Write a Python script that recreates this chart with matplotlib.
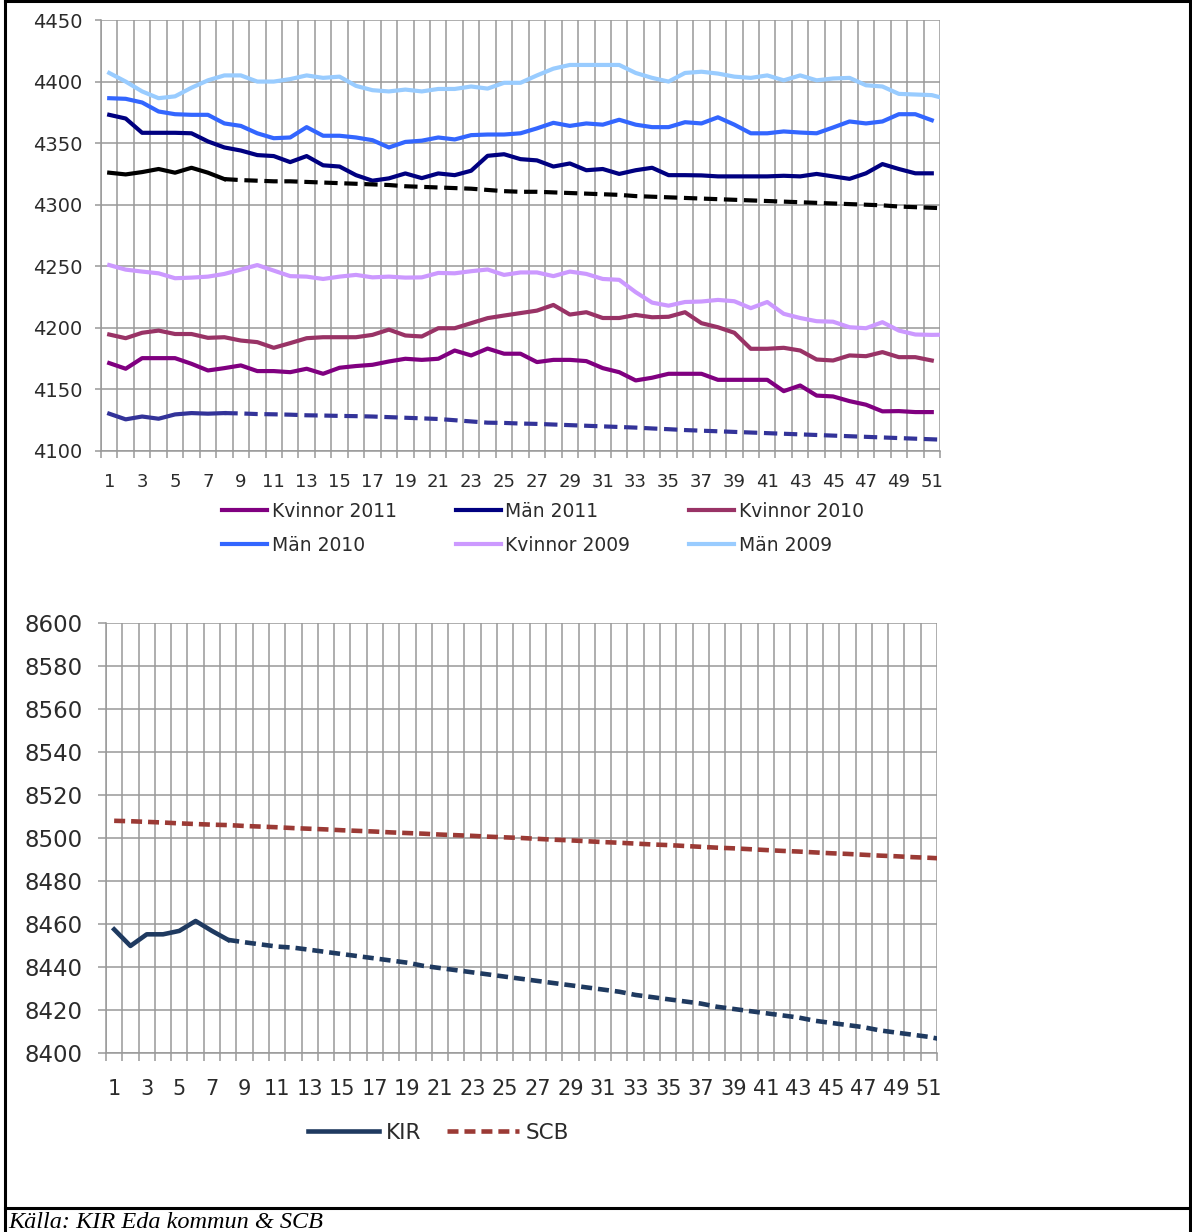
import numpy as np
import matplotlib
matplotlib.use("Agg")
import matplotlib.pyplot as plt
from matplotlib.lines import Line2D

# ---- data: top chart (weeks 1..51, 2009 has a week 52) ----
weeks = np.arange(1, 53)

kvinnor_2011 = [4171.4, 4166.8, 4175.4, 4175.4, 4175.4, 4170.8, 4165.4, 4167.3, 4169.5, 4164.9,
                4164.9, 4164.0, 4166.8, 4162.7, 4167.6, 4169.0, 4170.0, 4172.7, 4174.9, 4174.0,
                4174.9, 4181.6, 4177.6, 4183.2, 4179.0, 4179.0, 4172.2, 4174.0, 4174.0, 4173.0,
                4167.3, 4164.0, 4157.3, 4159.5, 4162.7, 4162.7, 4162.7, 4157.8, 4157.8, 4157.8,
                4157.8, 4148.6, 4153.2, 4145.0, 4144.3, 4140.5, 4137.6, 4132.2, 4132.4, 4131.6,
                4131.6]
man_2011 = [4373.0, 4370.0, 4358.4, 4358.4, 4358.4, 4358.0, 4351.4, 4346.5, 4344.0, 4340.3,
            4339.5, 4334.6, 4339.5, 4332.0, 4331.0, 4324.0, 4319.5, 4321.4, 4325.4, 4321.6,
            4325.4, 4324.0, 4327.6, 4339.7, 4341.0, 4337.0, 4336.0, 4331.0, 4333.5, 4328.0,
            4329.0, 4325.0, 4328.0, 4330.0, 4324.0, 4324.0, 4323.8, 4323.0, 4323.0, 4323.0,
            4323.0, 4323.5, 4323.0, 4325.0, 4323.0, 4321.0, 4325.5, 4333.0, 4329.0, 4325.5,
            4325.5]
kvinnor_2010 = [4194.6, 4191.6, 4196.0, 4197.8, 4195.0, 4195.0, 4191.9, 4192.4, 4189.7, 4188.4,
                4183.8, 4187.6, 4191.6, 4192.4, 4192.4, 4192.4, 4194.3, 4198.6, 4193.8, 4193.0,
                4199.7, 4199.7, 4203.8, 4207.9, 4210.0, 4212.0, 4214.0, 4218.6, 4210.8, 4212.7,
                4208.0, 4208.0, 4210.5, 4208.6, 4209.0, 4212.7, 4203.8, 4200.5, 4196.0, 4183.0,
                4183.0, 4183.8, 4181.6, 4174.3, 4173.5, 4177.6, 4177.0, 4180.3, 4176.2, 4176.2,
                4173.5]
man_2010 = [4386.5, 4386.0, 4383.0, 4375.7, 4373.5, 4373.0, 4373.0, 4366.0, 4364.0, 4358.0,
            4354.0, 4354.6, 4363.0, 4356.0, 4356.0, 4354.6, 4352.4, 4346.5, 4351.0, 4352.0,
            4354.6, 4353.0, 4356.5, 4357.0, 4357.0, 4358.0, 4362.0, 4366.5, 4364.0, 4366.0,
            4365.0, 4369.0, 4365.0, 4363.0, 4363.0, 4367.0, 4366.0, 4371.0, 4365.0, 4358.0,
            4358.0, 4359.5, 4358.6, 4358.0, 4362.7, 4367.6, 4366.0, 4367.6, 4373.5, 4373.5,
            4368.6]
kvinnor_2009 = [4251.0, 4247.3, 4245.7, 4244.3, 4240.3, 4240.8, 4241.6, 4243.8, 4247.3, 4251.0,
                4246.5, 4242.0, 4241.6, 4239.7, 4241.6, 4243.0, 4241.0, 4241.6, 4240.8, 4241.0,
                4244.6, 4244.3, 4246.0, 4247.4, 4243.0, 4245.0, 4245.0, 4242.0, 4245.7, 4243.8,
                4239.7, 4239.0, 4229.0, 4220.5, 4218.0, 4221.0, 4221.4, 4222.7, 4221.6, 4216.0,
                4221.0, 4211.4, 4208.0, 4205.4, 4205.0, 4200.5, 4199.7, 4204.6, 4197.8, 4194.6,
                4194.3, 4194.5]
man_2009 = [4407.0, 4400.0, 4392.0, 4386.5, 4388.0, 4395.0, 4401.0, 4405.0, 4405.0, 4400.0,
            4400.0, 4402.0, 4405.0, 4403.0, 4404.0, 4396.5, 4393.0, 4392.0, 4393.5, 4392.0,
            4394.0, 4394.0, 4396.0, 4394.3, 4399.0, 4399.0, 4405.0, 4410.5, 4413.5, 4413.5,
            4413.5, 4413.5, 4407.0, 4403.0, 4400.0, 4407.0, 4408.0, 4406.5, 4404.0, 4403.0,
            4405.0, 4401.0, 4405.0, 4401.0, 4402.5, 4403.0, 4397.0, 4396.0, 4390.0, 4389.5,
            4389.0, 4385.5]

# 2012 so far (weeks 1-8) and forecast (weeks 8-52)
man_2012 = [4326.0, 4324.6, 4326.5, 4329.0, 4326.0, 4330.0, 4326.0, 4320.8]
man_2012_prog = [4320.8, 4320.0, 4319.5, 4319.0, 4319.0, 4318.5, 4318.0, 4317.5, 4317.0, 4316.5,
                 4316.0, 4315.0, 4314.5, 4314.0, 4313.5, 4313.0, 4312.0, 4311.0, 4310.5, 4310.5,
                 4310.0, 4309.5, 4309.0, 4308.5, 4308.0, 4307.0, 4306.5, 4306.0, 4305.5, 4305.0,
                 4304.5, 4304.0, 4303.5, 4303.0, 4302.5, 4302.0, 4301.5, 4301.0, 4300.5, 4300.0,
                 4299.5, 4298.5, 4298.0, 4297.5, 4297.0]
kvinnor_2012 = [4130.3, 4125.7, 4128.0, 4126.2, 4129.7, 4130.8, 4130.3, 4130.8]
kvinnor_2012_prog = [4130.8, 4130.5, 4130.0, 4129.8, 4129.5, 4129.0, 4128.8, 4128.5, 4128.3, 4128.0,
                     4127.5, 4127.0, 4126.5, 4126.0, 4125.0, 4124.0, 4123.0, 4122.8, 4122.3, 4122.0,
                     4121.5, 4121.0, 4120.5, 4120.0, 4119.5, 4119.0, 4118.3, 4117.7, 4117.0, 4116.5,
                     4116.0, 4115.5, 4115.0, 4114.5, 4114.0, 4113.5, 4113.0, 4112.5, 4112.0, 4111.5,
                     4111.0, 4110.5, 4110.0, 4109.5, 4109.0]

# ---- data: bottom chart ----
kir = [8457.5, 8449.8, 8455.2, 8455.2, 8456.8, 8461.4, 8456.8, 8452.6]
kir_prog = [8452.6, 8451.5, 8450.5, 8449.5, 8449.0, 8448.0, 8447.0, 8446.0, 8445.0, 8444.0,
            8443.0, 8442.0, 8440.5, 8439.5, 8438.5, 8437.5, 8436.5, 8435.5, 8434.5, 8433.5,
            8432.5, 8431.5, 8430.5, 8429.5, 8428.5, 8427.0, 8426.0, 8425.0, 8424.0, 8423.0,
            8421.5, 8420.5, 8419.5, 8418.5, 8417.5, 8416.5, 8415.0, 8414.0, 8413.0, 8412.0,
            8410.5, 8409.5, 8408.5, 8407.5, 8406.0]
scb = [8508.0, 8507.8, 8507.5, 8507.2, 8506.8, 8506.5, 8506.2, 8506.0, 8505.6, 8505.3,
       8505.0, 8504.6, 8504.3, 8504.0, 8503.6, 8503.3, 8503.0, 8502.6, 8502.3, 8502.0,
       8501.6, 8501.3, 8501.0, 8500.6, 8500.3, 8500.0, 8499.6, 8499.2, 8498.9, 8498.5,
       8498.1, 8497.8, 8497.4, 8497.0, 8496.7, 8496.3, 8495.9, 8495.5, 8495.2, 8494.8,
       8494.4, 8494.0, 8493.7, 8493.3, 8492.9, 8492.6, 8492.2, 8491.8, 8491.5, 8491.1,
       8490.8, 8490.4]

W, H = 1192, 1232
fig = plt.figure(figsize=(W / 100, H / 100), dpi=100)
txt = '#2b2b2b'
grid = '#999999'


def style_axes(ax, ymin, ymax, ystep, fs_y, fs_x, ylen, xlen, ypad, xpad):
    ax.set_xlim(0.5, 51.5)
    ax.set_ylim(ymin, ymax)
    ax.set_yticks(np.arange(ymin, ymax + 1, ystep))
    ax.set_xticks(np.arange(1, 52, 2))
    ax.set_xticks(np.arange(0.5, 52, 1), minor=True)
    ax.grid(True, which='minor', axis='x', color=grid, lw=1.1)
    ax.grid(True, which='major', axis='y', color=grid, lw=1.1)
    ax.tick_params(axis='x', which='major', length=0, pad=xpad, labelsize=fs_x, labelcolor=txt)
    ax.tick_params(axis='x', which='minor', length=xlen, width=1.1, color=grid, direction='out')
    ax.tick_params(axis='y', length=ylen, width=1.1, color=grid, direction='out',
                   pad=ypad, labelsize=fs_y, labelcolor=txt)
    for s in ('top', 'right'):
        ax.spines[s].set_visible(False)
    for s in ('left', 'bottom'):
        ax.spines[s].set_color(grid)
        ax.spines[s].set_linewidth(1.1)
    ax.set_axisbelow(True)


# ---- top chart ----
ax1 = fig.add_axes([101 / W, 1 - 451 / H, 839 / W, 431 / H])
style_axes(ax1, 4100, 4450, 50, 14, 13, 4.3, 5, 9, 16)

lw = 3.0
l_k11, = ax1.plot(weeks[:51], kvinnor_2011, color='#800080', lw=lw, label='Kvinnor 2011')
l_m11, = ax1.plot(weeks[:51], man_2011, color='#000080', lw=lw, label='Män 2011')
l_k10, = ax1.plot(weeks[:51], kvinnor_2010, color='#993366', lw=lw, label='Kvinnor 2010')
l_m10, = ax1.plot(weeks[:51], man_2010, color='#3366FF', lw=lw, label='Män 2010')
l_k09, = ax1.plot(weeks, kvinnor_2009, color='#CC99FF', lw=lw, label='Kvinnor 2009')
l_m09, = ax1.plot(weeks, man_2009, color='#99CCFF', lw=lw, label='Män 2009')
ax1.plot(weeks[:8], man_2012, color='black', lw=lw)
ax1.plot(weeks[7:], man_2012_prog, color='black', lw=lw, dashes=(3.2, 1.6))
ax1.plot(weeks[:8], kvinnor_2012, color='#333399', lw=lw)
ax1.plot(weeks[7:], kvinnor_2012_prog, color='#333399', lw=lw, dashes=(3.2, 1.6))

# row-wise legend order like the original
order = [l_k11, l_m10, l_m11, l_k09, l_k10, l_m09]
fig.legend(handles=order, labels=[h.get_label() for h in order], ncol=3,
           loc='upper left', bbox_to_anchor=(222 / W, 1 - 502 / H), frameon=False,
           fontsize=13.5, handlelength=2.4, handletextpad=0.25, columnspacing=3.14,
           labelspacing=0.78, borderpad=0, borderaxespad=0, labelcolor=txt)

# ---- bottom chart ----
ax2 = fig.add_axes([106 / W, 1 - 1053 / H, 831 / W, 430 / H])
style_axes(ax2, 8400, 8600, 20, 16.5, 15, 5.8, 5.8, 11, 19)

lw2 = 3.3
k_line, = ax2.plot(weeks[:8], kir, color='#1F3A60', lw=lw2, label='KIR')
ax2.plot(weeks[7:], kir_prog, color='#1F3A60', lw=lw2, dashes=(2.4, 1.3))
s_line, = ax2.plot(weeks, scb, color='#9B3A35', lw=lw2, dashes=(2.4, 1.3), label='SCB')

fig.legend(handles=[k_line, s_line], labels=['KIR', 'SCB'], ncol=2,
           loc='upper left', bbox_to_anchor=(308 / W, 1 - 1123 / H), frameon=False,
           fontsize=15.5, handlelength=3.3, handletextpad=0.33, columnspacing=1.2,
           borderpad=0, borderaxespad=0, labelcolor=txt)

# ---- frame and source line ----
def fline(x0, y0, x1, y1):
    fig.add_artist(Line2D([x0 / W, x1 / W], [1 - y0 / H, 1 - y1 / H],
                          transform=fig.transFigure, color='black', lw=2.2))

fline(5, 0, 5, H)
fline(1190, 0, 1190, H)
fline(5, 1, 1190, 1)
fline(5, 1208, 1190, 1208)

fig.text(8 / W, 1 - 1228 / H, 'Källa: KIR Eda kommun & SCB', family='Liberation Serif',
         style='italic', fontsize=17.5, va='baseline', ha='left', color='black')

fig.savefig('out.png', dpi=100)
